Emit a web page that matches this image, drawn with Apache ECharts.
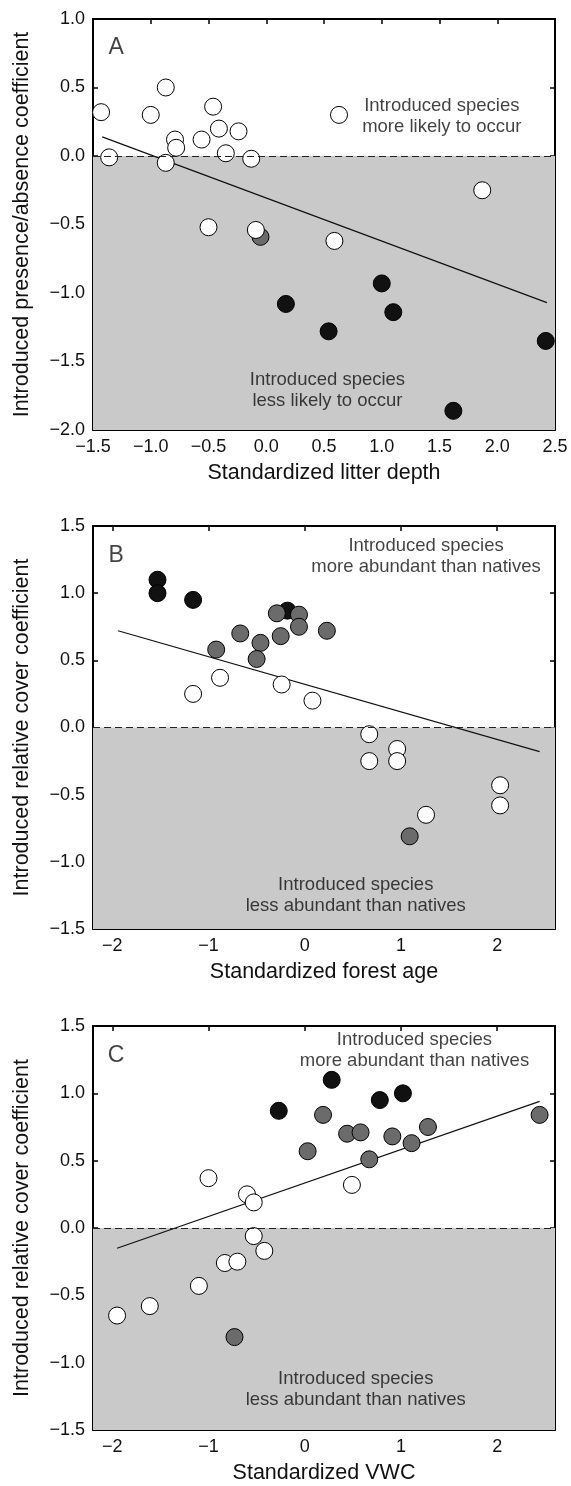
<!DOCTYPE html>
<html><head><meta charset="utf-8">
<script src="https://cdn.jsdelivr.net/npm/echarts@6/dist/echarts.min.js"></script>
<style>html,body{margin:0;padding:0;background:#fff}#c{width:571px;height:1486px}</style>
</head><body><div id="c"></div><script>
// ---------- Panel A: litter depth ----------
const aWhite = [[-1.43,0.32],[-1.36,-0.01],[-1.00,0.30],[-0.87,0.50],[-0.87,-0.05],[-0.79,0.12],[-0.78,0.06],[-0.56,0.12],[-0.46,0.36],[-0.41,0.20],[-0.35,0.02],[-0.24,0.18],[-0.13,-0.02],[0.63,0.30],[1.87,-0.25],[-0.50,-0.52],[-0.09,-0.54],[0.59,-0.62]];
const aGray = [[-0.05,-0.59]];
const aBlack = [[0.17,-1.08],[1.00,-0.93],[1.10,-1.14],[0.54,-1.28],[2.42,-1.35],[1.62,-1.86]];
const aFit = [[-1.42,0.14],[2.43,-1.07]];
// ---------- Panel B: forest age ----------
const bWhite = [[-1.16,0.25],[-0.88,0.37],[-0.24,0.32],[0.08,0.20],[0.67,-0.05],[0.67,-0.25],[0.96,-0.16],[0.96,-0.25],[2.03,-0.43],[2.03,-0.58],[1.26,-0.65]];
const bGray = [[-0.29,0.85],[-0.06,0.84],[-0.06,0.75],[-0.67,0.70],[-0.25,0.68],[-0.46,0.63],[-0.92,0.58],[-0.50,0.51],[0.23,0.72],[1.09,-0.81]];
const bBlack = [[-1.53,1.10],[-1.53,1.00],[-1.16,0.95],[-0.18,0.87]];
const bFit = [[-1.94,0.72],[2.44,-0.18]];
// ---------- Panel C: VWC ----------
const cWhite = [[0.49,0.32],[-1.00,0.37],[-0.60,0.25],[-0.53,0.19],[-0.53,-0.06],[-0.42,-0.17],[-0.83,-0.26],[-0.70,-0.25],[-1.10,-0.43],[-1.61,-0.58],[-1.95,-0.65]];
const cGray = [[0.19,0.84],[0.03,0.57],[0.44,0.70],[0.58,0.71],[0.91,0.68],[1.28,0.75],[1.11,0.63],[0.67,0.51],[2.44,0.84],[-0.73,-0.81]];
const cBlack = [[-0.27,0.87],[0.28,1.10],[0.78,0.95],[1.02,1.00]];
const cFit = [[-1.95,-0.15],[2.44,0.94]];
// ---------- Axis ranges and ticks ----------
const aXRange = [-1.5, 2.5], aYRange = [-2.0, 1.0];
const bcXRange = [-2.2, 2.6], bcYRange = [-1.5, 1.5];
const bcXTicks = [-2, -1, 0, 1, 2];
// ---------- Texts ----------
const panelLetters = ['A', 'B', 'C'];
const xTitles = ['Standardized litter depth', 'Standardized forest age', 'Standardized VWC'];
const yTitles = ['Introduced presence/absence coefficient', 'Introduced relative cover coefficient', 'Introduced relative cover coefficient'];
const upperNotes = ['Introduced species\nmore likely to occur', 'Introduced species\nmore abundant than natives', 'Introduced species\nmore abundant than natives'];
const lowerNotes = ['Introduced species\nless likely to occur', 'Introduced species\nless abundant than natives', 'Introduced species\nless abundant than natives'];
// annotation anchor points (data coords)
const letterPos = [[-1.30,0.79],[-1.96,1.28],[-1.96,1.28]];
const upperPos = [[1.52,0.29],[1.26,1.27],[1.14,1.32]];
const lowerPos = [[0.53,-1.71],[0.53,-1.25],[0.53,-1.20]];

const FONT = '"Liberation Sans", Arial, Helvetica, sans-serif';
const fmt1 = v => (Math.abs(v) < 1e-9 ? '0.0' : v.toFixed(1)).replace('-', '\u2212');
const fmt0 = v => String(Math.round(v)).replace('-', '\u2212');

const grids = [
  {left: 93, top: 19, width: 462, height: 411},
  {left: 93, top: 526, width: 462, height: 403},
  {left: 93, top: 1026, width: 462, height: 404}
];

const panels = [
  {white: aWhite, gray: aGray, black: aBlack, fit: aFit, xr: aXRange, yr: aYRange, xint: 0.5, xticks: null, xfmt: fmt1},
  {white: bWhite, gray: bGray, black: bBlack, fit: bFit, xr: bcXRange, yr: bcYRange, xint: null, xticks: bcXTicks, xfmt: fmt0},
  {white: cWhite, gray: cGray, black: cBlack, fit: cFit, xr: bcXRange, yr: bcYRange, xint: null, xticks: bcXTicks, xfmt: fmt0}
];

const lineW = 2;
const xAxes = [], yAxes = [], series = [];
panels.forEach((p, i) => {
  const xBase = {
    gridIndex: i, type: 'value', min: p.xr[0], max: p.xr[1],
    splitLine: {show: false},
    axisLine: {show: true, onZero: false, lineStyle: {color: '#000', width: lineW}},
    axisTick: {show: true, inside: true, length: 5, lineStyle: {color: '#000', width: 1.5}}
  };
  if (p.xint) xBase.interval = p.xint;
  if (p.xticks) xBase.axisTick.customValues = p.xticks;
  xAxes.push(Object.assign({}, xBase, {
    position: 'bottom',
    axisLabel: Object.assign({show: true, color: '#111', fontSize: 18, fontFamily: FONT, margin: 8, formatter: p.xfmt},
      p.xticks ? {customValues: p.xticks} : {}),
    name: xTitles[i], nameLocation: 'middle', nameGap: 32,
    nameTextStyle: {color: '#111', fontSize: 21.5, fontFamily: FONT}
  }));
  xAxes.push(Object.assign({}, xBase, {position: 'top', axisLabel: {show: false}}));
  const yBase = {
    gridIndex: i, type: 'value', min: p.yr[0], max: p.yr[1], interval: 0.5,
    splitLine: {show: false},
    axisLine: {show: true, onZero: false, lineStyle: {color: '#000', width: lineW}},
    axisTick: {show: true, inside: true, length: 5, lineStyle: {color: '#000', width: 1.5}}
  };
  yAxes.push(Object.assign({}, yBase, {
    position: 'left',
    axisLabel: {show: true, color: '#111', fontSize: 18, fontFamily: FONT, margin: 8, formatter: fmt1},
    name: yTitles[i], nameLocation: 'middle', nameGap: 60, nameRotate: 90,
    nameTextStyle: {color: '#111', fontSize: 21.5, fontFamily: FONT}
  }));
  yAxes.push(Object.assign({}, yBase, {position: 'right', axisLabel: {show: false}}));

  const xi = i * 2, yi = i * 2;
  // shading + zero line
  series.push({
    type: 'scatter', xAxisIndex: xi, yAxisIndex: yi, data: [], silent: true, z: 1,
    markArea: {silent: true, itemStyle: {color: '#c9c9c9'}, data: [[{yAxis: p.yr[0]}, {yAxis: 0}]]},
    markLine: {silent: true, symbol: 'none', label: {show: false},
      lineStyle: {color: '#222', type: [7, 4], width: 1.2}, data: [{yAxis: 0}]}
  });
  // regression line
  series.push({
    type: 'line', xAxisIndex: xi, yAxisIndex: yi, data: p.fit, showSymbol: false, symbol: 'none', silent: true, z: 2,
    lineStyle: {color: '#111', width: 1.2}
  });
  // points
  [['black', '#111111'], ['gray', '#6b6b6b'], ['white', '#ffffff']].forEach(([k, col]) => {
    series.push({
      type: 'scatter', xAxisIndex: xi, yAxisIndex: yi, data: p[k], symbol: 'circle', symbolSize: 17, z: 3,
      itemStyle: {color: col, borderColor: '#000', borderWidth: 1, opacity: 1}
    });
  });
  // annotations
  const noteStyle = {show: true, position: 'inside', color: '#111', fontSize: 18.5, fontFamily: FONT, lineHeight: 21, align: 'center', verticalAlign: 'middle'};
  series.push({
    type: 'scatter', xAxisIndex: xi, yAxisIndex: yi, symbolSize: 0, silent: true, z: 4,
    data: [
      {value: letterPos[i], label: Object.assign({}, noteStyle, {formatter: panelLetters[i], fontSize: 23})},
      {value: upperPos[i], label: Object.assign({}, noteStyle, {formatter: upperNotes[i]})},
      {value: lowerPos[i], label: Object.assign({}, noteStyle, {formatter: lowerNotes[i]})}
    ]
  });
});

const chart = echarts.init(document.getElementById('c'), null, {renderer: 'canvas'});
chart.setOption({
  animation: false,
  backgroundColor: '#fff',
  grid: grids.map(g => Object.assign({containLabel: false, outerBoundsMode: 'none'}, g)),
  xAxis: xAxes,
  yAxis: yAxes,
  series: series
});
</script></body></html>
